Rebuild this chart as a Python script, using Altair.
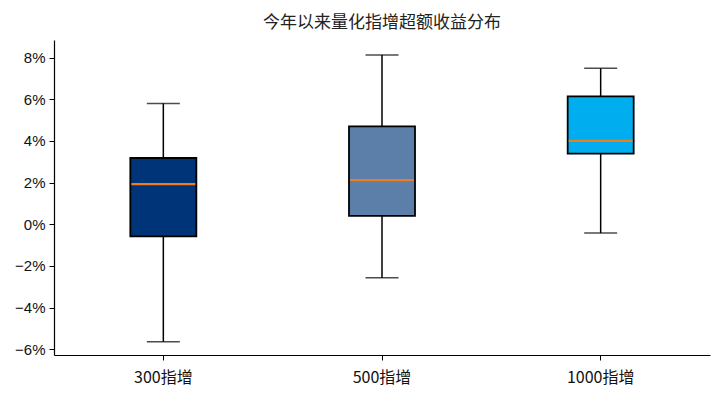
import altair as alt
import pandas as pd

categories = ["300指增", "500指增", "1000指增"]
whisker_low = [-0.0563, -0.0257, -0.0042]
q1 = [-0.0058, 0.0040, 0.0339]
median = [0.0193, 0.0212, 0.0400]
q3 = [0.0318, 0.0470, 0.0614]
whisker_high = [0.0580, 0.0812, 0.0748]
colors = ["#003479", "#5b7fa9", "#00aeef"]

df = pd.DataFrame({
    "cat": categories, "lo": whisker_low, "q1": q1, "med": median,
    "q3": q3, "hi": whisker_high, "color": colors,
})

x = alt.X("cat:N", sort=categories, title=None,
          scale=alt.Scale(paddingInner=0, paddingOuter=0),
          axis=alt.Axis(labelAngle=0, labelFont="Noto Sans CJK SC", labelFontSize=16,
                        labelColor="#111", domainColor="#000", tickColor="#000",
                        tickSize=5, labelPadding=9, domainWidth=1.2))
yscale = alt.Scale(domain=[-0.0627, 0.0884], nice=False, zero=False)
yaxis = alt.Axis(format=".0%", values=[-0.06, -0.04, -0.02, 0, 0.02, 0.04, 0.06, 0.08],
                 grid=False, labelFont="Liberation Sans", labelFontSize=15, labelColor="#111",
                 domainColor="#000", tickColor="#000", tickSize=5, labelPadding=4, domainWidth=1.2)

base = alt.Chart(df)
whisk = base.mark_rule(color="black", strokeWidth=1.5).encode(
    x=x, y=alt.Y("lo:Q", scale=yscale, axis=yaxis, title=None), y2="hi:Q")
box = base.mark_bar(size=66, stroke="black", strokeWidth=1.8).encode(
    x=x, y=alt.Y("q1:Q"), y2="q3:Q",
    color=alt.Color("color:N", scale=None, legend=None))
cap_lo = base.mark_tick(color="black", size=33, thickness=1.5, orient="horizontal").encode(
    x=x, y="lo:Q")
cap_hi = base.mark_tick(color="black", size=33, thickness=1.5, orient="horizontal").encode(
    x=x, y="hi:Q")
med = base.mark_tick(color="#f07c1c", size=64, thickness=2.2, opacity=1,
                     orient="horizontal").encode(x=x, y="med:Q")

chart = alt.layer(whisk, box, cap_lo, cap_hi, med).properties(
    width=656, height=315,
    title=alt.Title("今年以来量化指增超额收益分布", font="Noto Sans CJK SC", fontSize=17,
                    fontWeight="normal", color="#222", offset=8),
    autosize=alt.AutoSizeParams(type="none"),
    padding={"left": 54, "top": 40, "right": 7, "bottom": 44},
).configure(background="white").configure_view(stroke=None)

chart.save("out.html", embed_options={"renderer": "svg", "actions": False})
